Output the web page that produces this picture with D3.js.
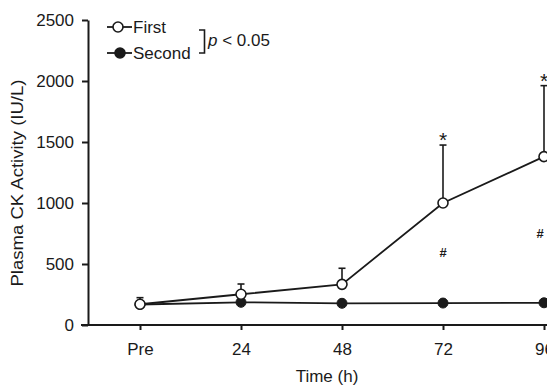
<!DOCTYPE html>
<html>
<head>
<meta charset="utf-8">
<script src="https://cdn.jsdelivr.net/npm/d3@7"></script>
<style>
  html, body { margin: 0; padding: 0; background: #fff; }
  svg { display: block; font-family: "Liberation Sans", Arial, sans-serif; }
</style>
</head>
<body>
<svg id="chart" width="547" height="385"></svg>
<script>
// ---- data ----
const categories = ["Pre", "24", "48", "72", "96"];
const firstMean  = [170, 252, 333, 1000, 1380];
const firstErr   = [54, 84, 132, 475, 582];
const secondMean = [168, 186, 178, 180, 182];
const yTicks     = [0, 500, 1000, 1500, 2000, 2500];
const starCats   = ["72", "96"];
const hashCats   = ["72", "96"];
const hashValues = [598, 754];
const legendLabels = ["First", "Second"];
const sigLabel = "p < 0.05";

// ---- layout ----
const svg = d3.select("#chart");
const W = 547, H = 385;
const axisX = 88, axisY0 = 325, axisTop = 20;
const ink = "#1a1a1a";
const fs = 17;

const x = d3.scalePoint().domain(categories).range([140, 544]);
const y = d3.scaleLinear().domain([0, 2500]).range([axisY0, axisTop]);

// y axis
const yAxis = svg.append("g")
  .attr("transform", `translate(${axisX},0)`)
  .call(d3.axisLeft(y).tickValues(yTicks).tickFormat(d3.format("d"))
    .tickSize(6).tickSizeOuter(0).tickPadding(8));
yAxis.select(".domain").attr("stroke", ink).attr("stroke-width", 2);
yAxis.selectAll(".tick line").attr("stroke", ink).attr("stroke-width", 2);
yAxis.selectAll(".tick text").attr("fill", ink).attr("font-size", fs).attr("font-family", "Liberation Sans, Arial, sans-serif");

// x axis
const xAxis = svg.append("g")
  .attr("transform", `translate(0,${axisY0})`)
  .call(d3.axisBottom(x).tickSize(5).tickSizeOuter(0).tickPadding(13));
xAxis.select(".domain").remove();
xAxis.append("line").attr("x1", 81).attr("x2", W + 20).attr("y1", 0).attr("y2", 0)
  .attr("stroke", ink).attr("stroke-width", 2);
xAxis.selectAll(".tick line").attr("stroke", ink).attr("stroke-width", 2);
xAxis.selectAll(".tick text").attr("fill", ink).attr("font-size", fs).attr("font-family", "Liberation Sans, Arial, sans-serif");

// axis titles
svg.append("text")
  .attr("x", 327).attr("y", 382)
  .attr("text-anchor", "middle").attr("font-size", fs).attr("fill", ink)
  .text("Time (h)");
svg.append("text")
  .attr("transform", "translate(23,183) rotate(-90)")
  .attr("text-anchor", "middle").attr("font-size", fs).attr("fill", ink)
  .attr("textLength", 207).attr("lengthAdjust", "spacingAndGlyphs")
  .text("Plasma CK Activity (IU/L)");

// error bars (upper only) for First
const eb = svg.append("g").attr("stroke", ink).attr("stroke-width", 1.6);
categories.forEach((c, i) => {
  const cx = x(c), top = y(firstMean[i] + firstErr[i]);
  eb.append("line").attr("x1", cx).attr("x2", cx).attr("y1", y(firstMean[i])).attr("y2", top);
  eb.append("line").attr("x1", cx - 3.5).attr("x2", cx + 3.5).attr("y1", top).attr("y2", top);
});

// lines
const line = d3.line().x((d, i) => x(categories[i])).y(d => y(d));
svg.append("path").datum(secondMean).attr("d", line)
  .attr("fill", "none").attr("stroke", ink).attr("stroke-width", 1.8);
svg.append("path").datum(firstMean).attr("d", line)
  .attr("fill", "none").attr("stroke", ink).attr("stroke-width", 1.8);

// markers
svg.append("g").selectAll("circle").data(secondMean).join("circle")
  .attr("cx", (d, i) => x(categories[i])).attr("cy", d => y(d)).attr("r", 5)
  .attr("fill", ink).attr("stroke", ink).attr("stroke-width", 1);
svg.append("g").selectAll("circle").data(firstMean).join("circle")
  .attr("cx", (d, i) => x(categories[i])).attr("cy", d => y(d)).attr("r", 5)
  .attr("fill", "#fff").attr("stroke", ink).attr("stroke-width", 1.6);

// stars above error bars
starCats.forEach(c => {
  const i = categories.indexOf(c);
  svg.append("text")
    .attr("x", x(c)).attr("y", y(firstMean[i] + firstErr[i]) + 2)
    .attr("text-anchor", "middle").attr("font-size", 21).attr("fill", ink)
    .text("*");
});
// hashes
hashCats.forEach((c, k) => {
  svg.append("text")
    .attr("x", x(c) - (k === 1 ? 4 : 0)).attr("y", y(hashValues[k]) + 5)
    .attr("text-anchor", "middle").attr("font-size", 13).attr("font-weight", "bold").attr("fill", ink)
    .text("#");
});

// legend
const lg = svg.append("g").attr("fill", ink);
const legY = [27, 53];
legendLabels.forEach((lab, k) => {
  lg.append("line").attr("x1", 107).attr("x2", 132).attr("y1", legY[k]).attr("y2", legY[k])
    .attr("stroke", ink).attr("stroke-width", 1.8);
  lg.append("circle").attr("cx", k === 0 ? 118 : 120).attr("cy", legY[k]).attr("r", 5)
    .attr("fill", k === 0 ? "#fff" : ink).attr("stroke", ink).attr("stroke-width", 1.6);
  lg.append("text").attr("x", 133).attr("y", legY[k] + 6).attr("font-size", fs).text(lab);
});
lg.append("path").attr("d", "M199,30 H204.5 V53 H199")
  .attr("fill", "none").attr("stroke", ink).attr("stroke-width", 1.6);
const sig = lg.append("text").attr("x", 208).attr("y", 46).attr("font-size", fs);
sig.append("tspan").attr("font-style", "italic").text(sigLabel.split(" ")[0]);
sig.append("tspan").text(" " + sigLabel.split(" ").slice(1).join(" "));
</script>
</body>
</html>
